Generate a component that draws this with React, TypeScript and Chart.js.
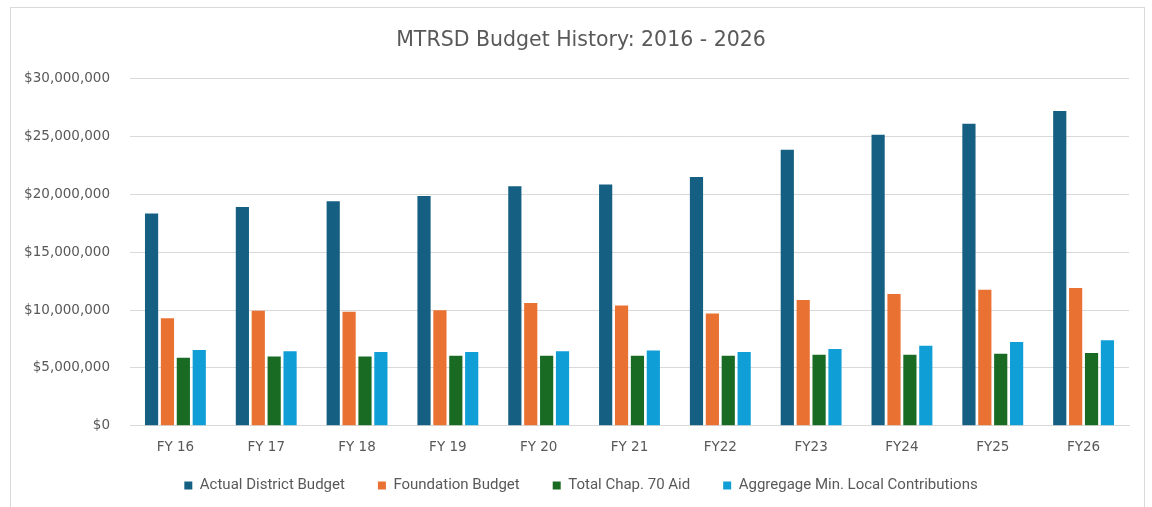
import React, { useEffect, useRef } from "react";
import { Chart, registerables } from "chart.js";

Chart.register(...registerables);

const categories = ["FY 16", "FY 17", "FY 18", "FY 19", "FY 20", "FY 21", "FY22", "FY23", "FY24", "FY25", "FY26"];
const actualDistrictBudget = [18350000, 18900000, 19400000, 19850000, 20700000, 20850000, 21500000, 23850000, 25150000, 26100000, 27200000];
const foundationBudget = [9300000, 9940000, 9850000, 9980000, 10600000, 10400000, 9700000, 10860000, 11380000, 11750000, 11900000];
const totalChap70Aid = [5870000, 5990000, 5990000, 6050000, 6050000, 6050000, 6050000, 6130000, 6130000, 6220000, 6280000];
const aggregateMinLocal = [6540000, 6450000, 6370000, 6370000, 6450000, 6500000, 6370000, 6630000, 6910000, 7230000, 7400000];
const seriesNames = ["Actual District Budget", "Foundation Budget", "Total Chap. 70 Aid", "Aggregage Min. Local Contributions"];
const seriesColors = ["#156082", "#E97132", "#196B24", "#0F9ED5"];

const legendShift = {
  id: "legendShift",
  afterLayout(chart: any) {
    if (chart.legend) {
      chart.legend.top -= 17;
      chart.legend.bottom -= 17;
    }
  },
};

export default function App() {
  const ref = useRef<HTMLCanvasElement | null>(null);
  useEffect(() => {
    if (!ref.current) return;
    const values = [actualDistrictBudget, foundationBudget, totalChap70Aid, aggregateMinLocal];
    const chart = new Chart(ref.current, {
      type: "bar",
      data: {
        labels: categories,
        datasets: values.map((v, i) => ({
          label: seriesNames[i],
          data: v,
          backgroundColor: seriesColors[i],
          categoryPercentage: 0.7,
          barPercentage: 0.83,
        })),
      },
      plugins: [legendShift],
      options: {
        responsive: false,
        animation: false,
        layout: { padding: { left: 22, right: 15, top: 10, bottom: 12 } },
        plugins: {
          title: {
            display: true,
            text: "MTRSD Budget History: 2016 - 2026",
            color: "#595959",
            font: { family: "DejaVu Sans", size: 20.5, weight: "normal" },
            padding: { top: 10, bottom: 26 },
          },
          legend: {
            position: "bottom",
            labels: {
              boxWidth: 8,
              boxHeight: 8,
              padding: 33,
              color: "#595959",
              font: { family: "Roboto", size: 15 },
            },
          },
          tooltip: { enabled: false },
        },
        scales: {
          x: {
            grid: { display: false },
            border: { display: true, color: "#d9d9d9" },
            ticks: { color: "#595959", font: { family: "DejaVu Sans", size: 13.5 }, padding: 6 },
          },
          y: {
            min: 0,
            max: 30000000,
            afterFit: (s: any) => {
              s.width = 97;
              s._computeLabelArea = () => undefined;
            },
            border: { display: false },
            grid: { color: "#d9d9d9", drawTicks: false, lineWidth: 1 },
            ticks: {
              stepSize: 5000000,
              padding: 20,
              color: "#595959",
              font: { family: "DejaVu Sans", size: 13.5 },
              callback: (v: any) => "$" + Number(v).toLocaleString("en-US"),
            },
          },
        },
      },
    });
    return () => chart.destroy();
  }, []);
  return (
    <div style={{ position: "fixed", left: 10, top: 7, width: 1133, height: 540, border: "1px solid #d9d9d9", background: "#fff" }}>
      <canvas ref={ref} width={1133} height={524} style={{ display: "block" }} />
    </div>
  );
}
